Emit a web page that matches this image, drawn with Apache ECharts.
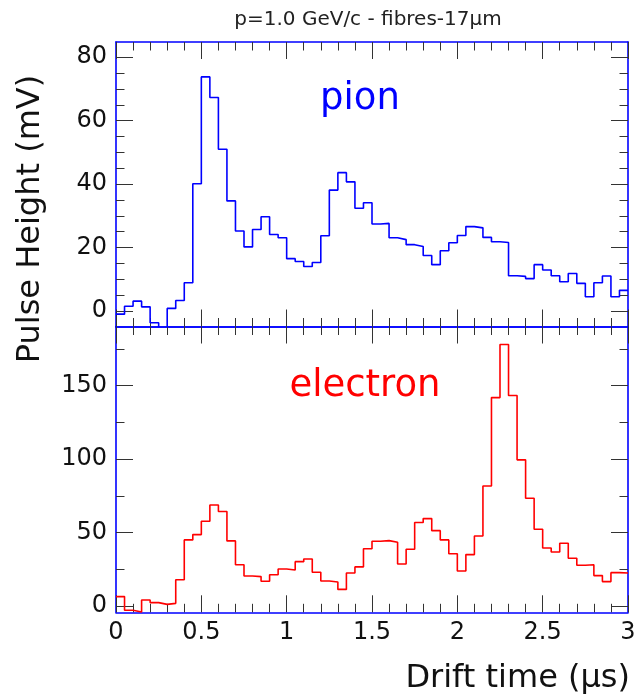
<!DOCTYPE html>
<html><head><meta charset="utf-8">
<script src="https://cdn.jsdelivr.net/npm/echarts@6/dist/echarts.min.js"></script>
<style>html,body{margin:0;padding:0;background:#fff}#c{width:639px;height:698px}</style>
</head><body><div id="c"></div>
<script>
// ---- data ----
const binWidth = 0.05; // µs, histogram bin width (60 bins from 0 to 3 µs)
const pionValues = [
  -1.0, 1.5, 3.1, 1.3, -3.7, -6.0, 0.8, 3.3, 8.9, 40.1,
  73.8, 67.3, 51.0, 34.7, 25.2, 20.2, 25.7, 29.7, 24.1, 23.1,
  16.5, 15.6, 14.0, 15.3, 23.7, 38.1, 43.6, 40.7, 32.4, 34.1,
  27.4, 27.6, 23.1, 22.5, 20.9, 20.3, 17.5, 14.6, 19.0, 21.5,
  23.8, 26.6, 26.2, 23.2, 21.8, 21.6, 11.1, 10.9, 10.2, 14.6,
  12.9, 11.1, 9.2, 11.8, 8.7, 4.5, 8.9, 11.0, 4.5, 6.5
];
const electronValues = [
  6.4, -2.9, -4.1, 4.1, 2.3, 1.1, 1.8, 17.9, 45.0, 48.6,
  57.7, 68.8, 64.3, 44.3, 28.1, 20.4, 20.0, 16.8, 21.3, 25.2,
  24.5, 30.2, 32.0, 23.0, 17.0, 16.3, 11.3, 22.5, 26.6, 39.0,
  44.1, 44.5, 43.4, 28.6, 38.6, 56.8, 59.5, 51.3, 45.0, 35.6,
  23.8, 35.0, 47.7, 81.7, 141.9, 178.0, 143.3, 99.5, 73.4, 52.2,
  39.5, 36.8, 42.7, 32.5, 27.7, 28.1, 20.7, 16.6, 22.7, 22.5
];
const pionMajorTicks = [0, 20, 40, 60, 80];
const pionMinorTicks = [5, 10, 15, 25, 30, 35, 45, 50, 55, 65, 70, 75];
const electronMajorTicks = [0, 50, 100, 150];
const electronMinorTicks = [25, 75, 125, 175];
const titleText = 'p=1.0 GeV/c - fibres-17μm';
const yTitle = 'Pulse Height (mV)';
const xTitle = 'Drift time (μs)';

// ---- build ----
function stepData(vals) {
  const d = vals.map((v, i) => [i * binWidth, v]);
  d.push([vals.length * binWidth, vals[vals.length - 1]]);
  return d;
}
const FONT = 'DejaVu Sans';
const BLUE = '#0000ff';
const TICK = '#333';
const MAJ = 17, MIN = 8.5;

function xAxis(grid, pos, labels) {
  return {
    type: 'value', gridIndex: grid, position: pos, min: 0, max: 3, interval: 0.5,
    axisLine: { show: true, onZero: false, lineStyle: { color: BLUE, width: 1.6 } },
    axisTick: { show: true, inside: true, length: MAJ, lineStyle: { color: TICK, width: 1 } },
    minorTick: { show: true, splitNumber: 5, length: MIN, lineStyle: { color: TICK, width: 1 } },
    axisLabel: { show: labels, margin: 8, fontFamily: FONT, fontSize: 24, color: '#111' },
    splitLine: { show: false }, minorSplitLine: { show: false }
  };
}
function yAxis(grid, pos, min, max, ticks, len, labels, line) {
  return {
    type: 'value', gridIndex: grid, position: pos, min: min, max: max,
    axisLine: { show: line, onZero: false, lineStyle: { color: BLUE, width: 1.6 } },
    axisTick: { show: true, inside: true, length: len, customValues: ticks, lineStyle: { color: TICK, width: 1 } },
    axisLabel: { show: labels, customValues: ticks, margin: 9, fontFamily: FONT, fontSize: 24, color: '#111' },
    splitLine: { show: false }
  };
}
const topMin = -4.9, topMax = 84.8, botMin = -4.3, botMax = 190.3;

const chart = echarts.init(document.getElementById('c'), null, { renderer: 'canvas' });
chart.setOption({
  animation: false,
  backgroundColor: '#fff',
  grid: [
    { left: 116, right: 11, top: 42, height: 284.5 },
    { left: 116, right: 11, top: 326.5, height: 285.8 }
  ],
  xAxis: [
    xAxis(0, 'bottom', false),
    xAxis(0, 'top', false),
    xAxis(1, 'top', false),
    xAxis(1, 'bottom', true)
  ],
  yAxis: [
    yAxis(0, 'left', topMin, topMax, pionMajorTicks, MAJ, true, true),
    yAxis(0, 'left', topMin, topMax, pionMinorTicks, MIN, false, false),
    yAxis(0, 'right', topMin, topMax, pionMajorTicks, MAJ, false, true),
    yAxis(0, 'right', topMin, topMax, pionMinorTicks, MIN, false, false),
    yAxis(1, 'left', botMin, botMax, electronMajorTicks, MAJ, true, true),
    yAxis(1, 'left', botMin, botMax, electronMinorTicks, MIN, false, false),
    yAxis(1, 'right', botMin, botMax, electronMajorTicks, MAJ, false, true),
    yAxis(1, 'right', botMin, botMax, electronMinorTicks, MIN, false, false)
  ],
  series: [
    {
      type: 'line', name: 'pion', xAxisIndex: 0, yAxisIndex: 0, step: 'end',
      data: stepData(pionValues), symbol: 'none', clip: true,
      lineStyle: { color: BLUE, width: 1.6 }
    },
    {
      type: 'line', name: 'electron', xAxisIndex: 3, yAxisIndex: 4, step: 'end',
      data: stepData(electronValues), symbol: 'none', clip: true,
      lineStyle: { color: '#ff0000', width: 1.6 }
    }
  ],
  graphic: [
    { type: 'text', x: 368, y: 20, style: { text: titleText, font: '20px "DejaVu Sans"', fill: '#222', align: 'center', verticalAlign: 'middle' } },
    { type: 'text', x: 360, y: 99, style: { text: 'pion', font: '37px "DejaVu Sans"', fill: BLUE, align: 'center', verticalAlign: 'middle' } },
    { type: 'text', x: 365, y: 386, style: { text: 'electron', font: '37px "DejaVu Sans"', fill: '#ff0000', align: 'center', verticalAlign: 'middle' } },
    { type: 'text', x: 31, y: 219, rotation: Math.PI / 2, style: { text: yTitle, font: '32px "DejaVu Sans"', fill: '#111', align: 'center', verticalAlign: 'middle' } },
    { type: 'text', x: 630, y: 679, style: { text: xTitle, font: '32px "DejaVu Sans"', fill: '#111', align: 'right', verticalAlign: 'middle' } }
  ]
});
</script>
</body></html>
